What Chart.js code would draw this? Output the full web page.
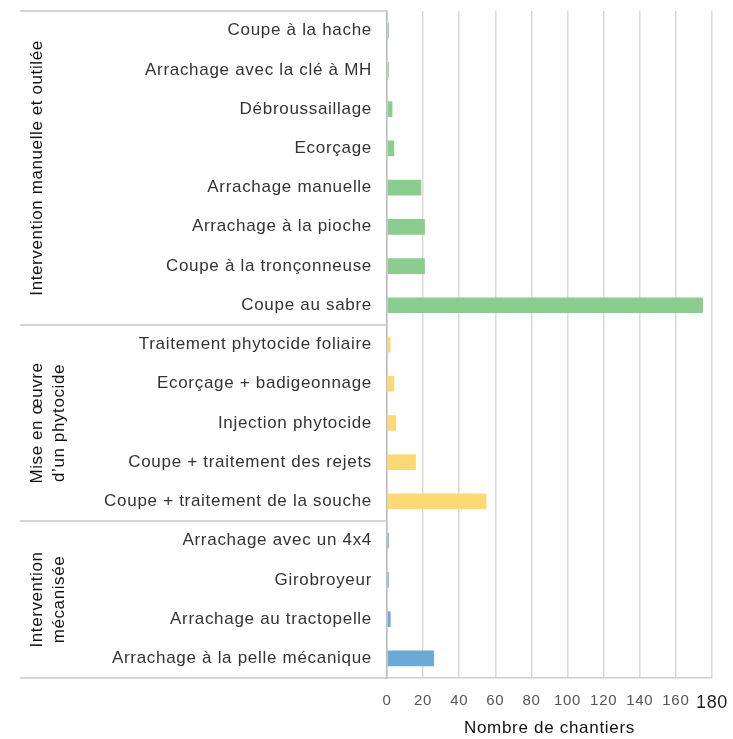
<!DOCTYPE html>
<html>
<head>
<meta charset="utf-8">
<script src="https://cdn.jsdelivr.net/npm/chart.js@4/dist/chart.umd.min.js"></script>
<style>
  html, body { margin: 0; padding: 0; background: #fff; }
  #wrap { width: 733px; height: 739px; position: relative; }
</style>
</head>
<body>
<div id="wrap"><canvas id="c" width="733" height="739"></canvas></div>
<script>
const categories = [
  "Coupe à la hache",
  "Arrachage avec la clé à MH",
  "Débroussaillage",
  "Ecorçage",
  "Arrachage manuelle",
  "Arrachage à la pioche",
  "Coupe à la tronçonneuse",
  "Coupe au sabre",
  "Traitement phytocide foliaire",
  "Ecorçage + badigeonnage",
  "Injection phytocide",
  "Coupe + traitement des rejets",
  "Coupe + traitement de la souche",
  "Arrachage avec un 4x4",
  "Girobroyeur",
  "Arrachage au tractopelle",
  "Arrachage à la pelle mécanique"
];
const values = [1, 1, 3, 4, 19, 21, 21, 175, 2, 4, 5, 16, 55, 1, 1, 2, 26];
const groupNames = [
  ["Intervention manuelle et outilée"],
  ["Mise en œuvre", "d’un phytocide"],
  ["Intervention", "mécanisée"]
];
const groupSizes = [8, 5, 4];
const groupColors = ["#8bcd8f", "#fdd975", "#6ba9d6"];
const xTickValues = [0, 20, 40, 60, 80, 100, 120, 140, 160, 180];
const xTitle = "Nombre de chantiers";

const barColors = [];
groupSizes.forEach((n, g) => { for (let i = 0; i < n; i++) barColors.push(groupColors[g]); });

const FONT = "'Liberation Sans', Arial, sans-serif";
const SPACING = '0.7px';

const spacingPlugin = {
  id: 'spacing',
  beforeUpdate(chart) { chart.ctx.letterSpacing = SPACING; },
  beforeDraw(chart) { chart.ctx.letterSpacing = SPACING; }
};

const groupPlugin = {
  id: 'groups',
  afterDraw(chart) {
    const ctx = chart.ctx;
    const y = chart.scales.y;
    const area = chart.chartArea;
    const xLeft = 20;
    const boundaries = [area.top];
    let idx = 0;
    groupSizes.forEach((n, g) => {
      idx += n;
      if (g < groupSizes.length - 1) {
        boundaries.push((y.getPixelForValue(idx - 1) + y.getPixelForValue(idx)) / 2);
      }
    });
    boundaries.push(area.bottom);
    ctx.save();
    ctx.strokeStyle = '#c8c8c8';
    ctx.lineWidth = 1.5;
    boundaries.forEach(b => {
      ctx.beginPath();
      ctx.moveTo(xLeft, b);
      ctx.lineTo(area.left, b);
      ctx.stroke();
    });
    ctx.letterSpacing = '0.6px';
    ctx.fillStyle = '#111';
    ctx.font = "17px " + FONT;
    ctx.textAlign = 'center';
    ctx.textBaseline = 'middle';
    groupNames.forEach((lines, g) => {
      const cy = (boundaries[g] + boundaries[g + 1]) / 2;
      lines.forEach((t, li) => {
        ctx.save();
        ctx.translate(37 + li * 22, cy);
        ctx.rotate(-Math.PI / 2);
        ctx.fillText(t, 0, 0);
        ctx.restore();
      });
    });
    ctx.restore();
  }
};

new Chart(document.getElementById('c'), {
  type: 'bar',
  data: {
    labels: categories,
    datasets: [{
      data: values,
      backgroundColor: barColors,
      borderWidth: 0,
      barPercentage: 0.4,
      categoryPercentage: 1.0
    }]
  },
  options: {
    indexAxis: 'y',
    responsive: false,
    animation: false,
    devicePixelRatio: 1,
    layout: { padding: { top: 11, right: 21, left: 0, bottom: 0 } },
    plugins: { legend: { display: false }, tooltip: { enabled: false } },
    scales: {
      x: {
        min: 0, max: 180,
        afterBuildTicks: s => { s.ticks = xTickValues.map(v => ({ value: v })); },
        afterFit: s => { s.height = 61; s.paddingLeft = 0; s.paddingRight = 0; },
        grid: { color: '#dadada', lineWidth: 1.5, drawTicks: false },
        border: { display: true, color: '#d0d0d0', width: 1.5 },
        ticks: {
          padding: 14,
          maxRotation: 0, minRotation: 0, autoSkip: false,
          color: ctx => ctx.tick && ctx.tick.value === 180 ? '#222' : '#555',
          font: ctx => ctx.tick && ctx.tick.value === 180 ? { family: FONT, size: 18 } : { family: FONT, size: 15 }
        },
        title: {
          display: true, text: xTitle, color: '#111',
          font: { family: FONT, size: 17 },
          padding: { top: 11, bottom: 0 }
        }
      },
      y: {
        afterFit: s => { s.width = 387; s.paddingTop = 0; s.paddingBottom = 0; },
        grid: { display: false, drawTicks: false },
        border: { display: true, color: '#bdbdbd', width: 1.5 },
        ticks: {
          padding: 15,
          color: '#333',
          font: { family: FONT, size: 17 },
          autoSkip: false
        }
      }
    }
  },
  plugins: [spacingPlugin, groupPlugin]
});
</script>
</body>
</html>
